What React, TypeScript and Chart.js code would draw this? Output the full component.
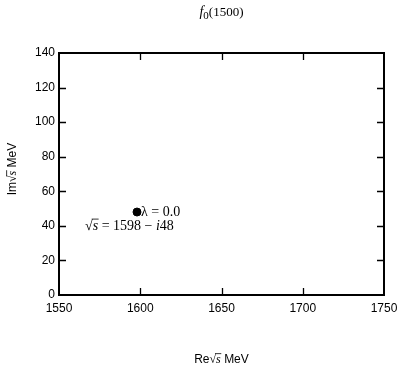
import { useEffect, useRef } from "react";
import { Chart, registerables } from "chart.js";

Chart.register(...registerables);

// Resonance pole positions in the complex energy plane
const resonanceName = "f";
const resonanceIndex = "0";
const resonanceMass = "(1500)";
const poleRe = [1598];
const poleIm = [48];
const lambdas = ["0.0"];

// Axis ranges and tick steps
const xRange = [1550, 1750];
const yRange = [0, 140];
const xStep = 50;
const yStep = 20;

const SANS = '"Liberation Sans", Arial, Helvetica, sans-serif';
const SERIF = '"Liberation Serif", "Times New Roman", "DejaVu Serif", serif';

type Run = { text: string; font: string; overline?: boolean; dy?: number };

function runsWidth(ctx: CanvasRenderingContext2D, runs: Run[]) {
  let w = 0;
  for (const r of runs) {
    ctx.font = r.font;
    w += ctx.measureText(r.text).width;
  }
  return w;
}

function drawRuns(ctx: CanvasRenderingContext2D, runs: Run[], x: number, y: number) {
  let cx = x;
  for (const r of runs) {
    ctx.font = r.font;
    const w = ctx.measureText(r.text).width;
    ctx.fillText(r.text, cx, y + (r.dy || 0));
    if (r.overline) {
      const size = parseFloat(r.font.match(/(\d+(\.\d+)?)px/)![1]);
      const oy = y - size * 0.78;
      ctx.beginPath();
      ctx.lineWidth = 0.8;
      ctx.moveTo(cx - 1, oy);
      ctx.lineTo(cx + w + 0.5, oy);
      ctx.stroke();
    }
    cx += w;
  }
  return cx - x;
}

const sqrtS = (size: number): Run[] => [
  { text: "\u221A", font: `${size}px ${SERIF}` },
  { text: "s", font: `italic ${size}px ${SERIF}`, overline: true },
];

const decorations = {
  id: "decorations",
  afterDraw(chart: any) {
    const { ctx, chartArea: a } = chart;
    const x = chart.scales.x;
    const y = chart.scales.y;
    ctx.save();
    ctx.strokeStyle = "#000";
    ctx.fillStyle = "#000";

    // plot frame
    ctx.lineWidth = 2;
    ctx.strokeRect(a.left, a.top, a.right - a.left, a.bottom - a.top);

    // inward tick marks on all four sides
    const tl = 7;
    ctx.lineWidth = 1.3;
    ctx.beginPath();
    for (const t of x.ticks) {
      if (t.value <= x.min || t.value >= x.max) continue;
      const px = Math.round(x.getPixelForValue(t.value)) + 0.5;
      ctx.moveTo(px, a.bottom);
      ctx.lineTo(px, a.bottom - tl);
      ctx.moveTo(px, a.top);
      ctx.lineTo(px, a.top + tl);
    }
    for (const t of y.ticks) {
      if (t.value <= y.min || t.value >= y.max) continue;
      const py = Math.round(y.getPixelForValue(t.value)) + 0.5;
      ctx.moveTo(a.left, py);
      ctx.lineTo(a.left + tl, py);
      ctx.moveTo(a.right, py);
      ctx.lineTo(a.right - tl, py);
    }
    ctx.stroke();

    ctx.textBaseline = "alphabetic";
    ctx.textAlign = "left";

    // title
    const cxPlot = (a.left + a.right) / 2;
    const titleRuns: Run[] = [
      { text: resonanceName, font: `italic 14px ${SERIF}` },
      { text: resonanceIndex, font: `11px ${SERIF}`, dy: 3 },
      { text: resonanceMass, font: `13px ${SERIF}` },
    ];
    const tw = runsWidth(ctx, titleRuns);
    drawRuns(ctx, titleRuns, cxPlot - tw / 2, 16);

    // pole annotations
    poleRe.forEach((re, i) => {
      const px = x.getPixelForValue(re);
      const py = y.getPixelForValue(poleIm[i]);
      drawRuns(ctx, [{ text: `\u03BB = ${lambdas[i]}`, font: `14px ${SERIF}` }], px + 4, py + 4);
      const line: Run[] = [
        ...sqrtS(14),
        { text: ` = ${re} \u2212 `, font: `14px ${SERIF}` },
        { text: "i", font: `italic 14px ${SERIF}` },
        { text: `${poleIm[i]}`, font: `14px ${SERIF}` },
      ];
      drawRuns(ctx, line, px - 52, py + 18);
    });

    // x axis title
    const xTitle: Run[] = [
      { text: "Re", font: `12px ${SANS}` },
      ...sqrtS(12),
      { text: " MeV", font: `12px ${SANS}` },
    ];
    const xw = runsWidth(ctx, xTitle);
    drawRuns(ctx, xTitle, cxPlot - xw / 2, 363);

    // y axis title
    const yTitle: Run[] = [
      { text: "Im", font: `12px ${SANS}` },
      ...sqrtS(12),
      { text: " MeV", font: `12px ${SANS}` },
    ];
    const yw = runsWidth(ctx, yTitle);
    ctx.save();
    ctx.translate(16, 169);
    ctx.rotate(-Math.PI / 2);
    drawRuns(ctx, yTitle, -yw / 2, 0);
    ctx.restore();

    ctx.restore();
  },
};

export default function App() {
  const ref = useRef<HTMLCanvasElement | null>(null);

  useEffect(() => {
    if (!ref.current) return;
    const chart = new Chart(ref.current, {
      type: "scatter",
      data: {
        datasets: [
          {
            data: poleRe.map((re, i) => ({ x: re, y: poleIm[i] })),
            backgroundColor: "#000",
            borderColor: "#000",
            pointRadius: 4,
            pointHoverRadius: 4,
          },
        ],
      },
      options: {
        animation: false,
        responsive: false,
        devicePixelRatio: 1,
        events: [],
        layout: { padding: { left: 0, top: 53, right: 15, bottom: 0 } },
        plugins: { legend: { display: false }, tooltip: { enabled: false }, title: { display: false } },
        scales: {
          x: {
            type: "linear",
            min: xRange[0],
            max: xRange[1],
            grid: { display: false, drawTicks: false },
            border: { display: false },
            ticks: {
              stepSize: xStep,
              padding: 6,
              color: "#000",
              font: { family: SANS, size: 12 },
              maxRotation: 0,
              callback: (v: any) => String(v),
            },
            afterFit: (s: any) => {
              s.height = 73;
              s.paddingLeft = 0;
              s.paddingRight = 0;
            },
          },
          y: {
            type: "linear",
            min: yRange[0],
            max: yRange[1],
            grid: { display: false, drawTicks: false },
            border: { display: false },
            ticks: {
              stepSize: yStep,
              padding: 4,
              color: "#000",
              font: { family: SANS, size: 12 },
              callback: (v: any) => String(v),
            },
            afterFit: (s: any) => {
              s.width = 59;
              s.paddingTop = 0;
              s.paddingBottom = 0;
            },
          },
        },
      },
      plugins: [decorations],
    });
    return () => chart.destroy();
  }, []);

  return (
    <div style={{ position: "absolute", left: 0, top: 0, width: 399, height: 368, background: "#fff" }}>
      <canvas ref={ref} width={399} height={368} style={{ width: 399, height: 368, display: "block" }} />
    </div>
  );
}
